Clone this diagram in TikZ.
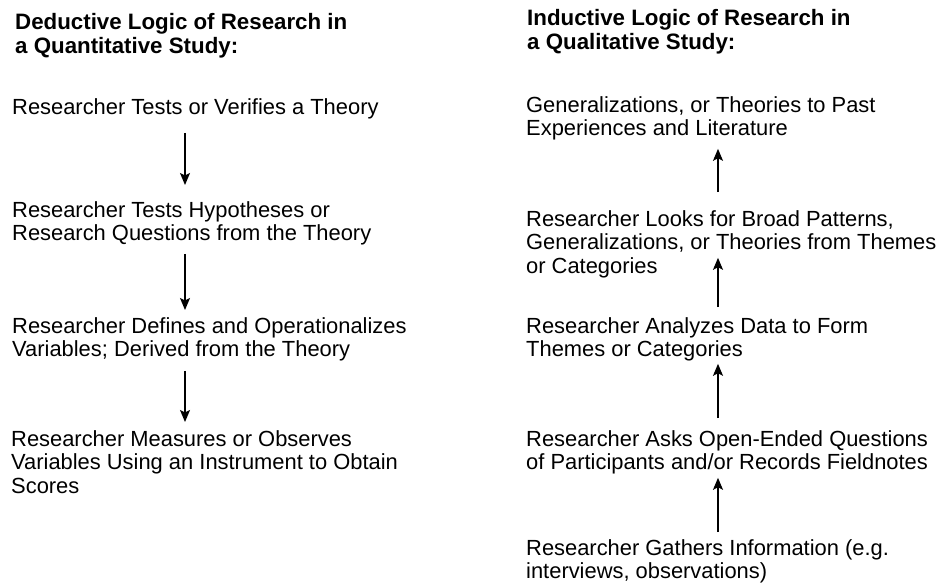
\documentclass[tikz,border=0pt]{standalone}
\usepackage{fontspec}
\setmainfont{Liberation Sans}
\usetikzlibrary{arrows.meta}
\tikzset{%
    stage/.style={%
        anchor=north west,
        inner sep=0pt,
        align=left,
        font=\fontsize{21.9}{23.5}\selectfont
    },
    heading/.style={%
        stage,
        font=\fontsize{22.3}{24.5}\selectfont\bfseries
    },
    flow/.style={%
        line width=1.3pt,
        -{Stealth[length=12pt,width=10pt,inset=2.5pt]}
    }
}
\begin{document}
\begin{tikzpicture}[x=1pt,y=-1pt]
    \useasboundingbox (0,0) rectangle (938,582);
    \coordinate (ldown) at (185,0);
    \coordinate (rup) at (718,0);
    \node[heading] (ltitle) at (15,13) {Deductive Logic of Research in\\a Quantitative Study:};
    \node[stage] (l1) at (12,98) {Researcher Tests or Verifies a Theory};
    \node[stage] (l2) at (12,201) {Researcher Tests Hypotheses or\\Research Questions from the Theory};
    \node[stage] (l3) at (12,317) {Researcher Defines and Operationalizes\\Variables; Derived from the Theory};
    \node[stage] (l4) at (11,430) {Researcher Measures or Observes\\Variables Using an Instrument to Obtain\\Scores};
    \node[heading] (rtitle) at (527,9) {Inductive Logic of Research in\\a Qualitative Study:};
    \node[stage] (r1) at (526,96) {Generalizations, or Theories to Past\\Experiences and Literature};
    \node[stage] (r2) at (526,210) {Researcher Looks for Broad Patterns,\\Generalizations, or Theories from Themes\\or Categories};
    \node[stage] (r3) at (526,317) {Researcher Analyzes Data to Form\\Themes or Categories};
    \node[stage] (r4) at (526,430) {Researcher Asks Open-Ended Questions\\of Participants and/or Records Fieldnotes};
    \node[stage] (r5) at (526,539) {Researcher Gathers Information (e.g.\\interviews, observations)};
    \draw[flow, shorten <=14pt, shorten >=16pt] (l1.south -| ldown) -- (l2.north -| ldown);
    \draw[flow, shorten <=8.5pt, shorten >=7pt] (l2.south -| ldown) -- (l3.north -| ldown);
    \draw[flow, shorten <=9.5pt, shorten >=8pt] (l3.south -| ldown) -- (l4.north -| ldown);
    \draw[flow, shorten <=18pt, shorten >=8.5pt] (r2.north -| rup) -- (r1.south -| rup);
    \draw[flow, shorten <=10pt, shorten >=-20pt] (r3.north -| rup) -- (r2.south -| rup);
    \draw[flow, shorten <=12pt, shorten >=2.5pt] (r4.north -| rup) -- (r3.south -| rup);
    \draw[flow, shorten <=7pt, shorten >=3.5pt] (r5.north -| rup) -- (r4.south -| rup);
\end{tikzpicture}
\end{document}
